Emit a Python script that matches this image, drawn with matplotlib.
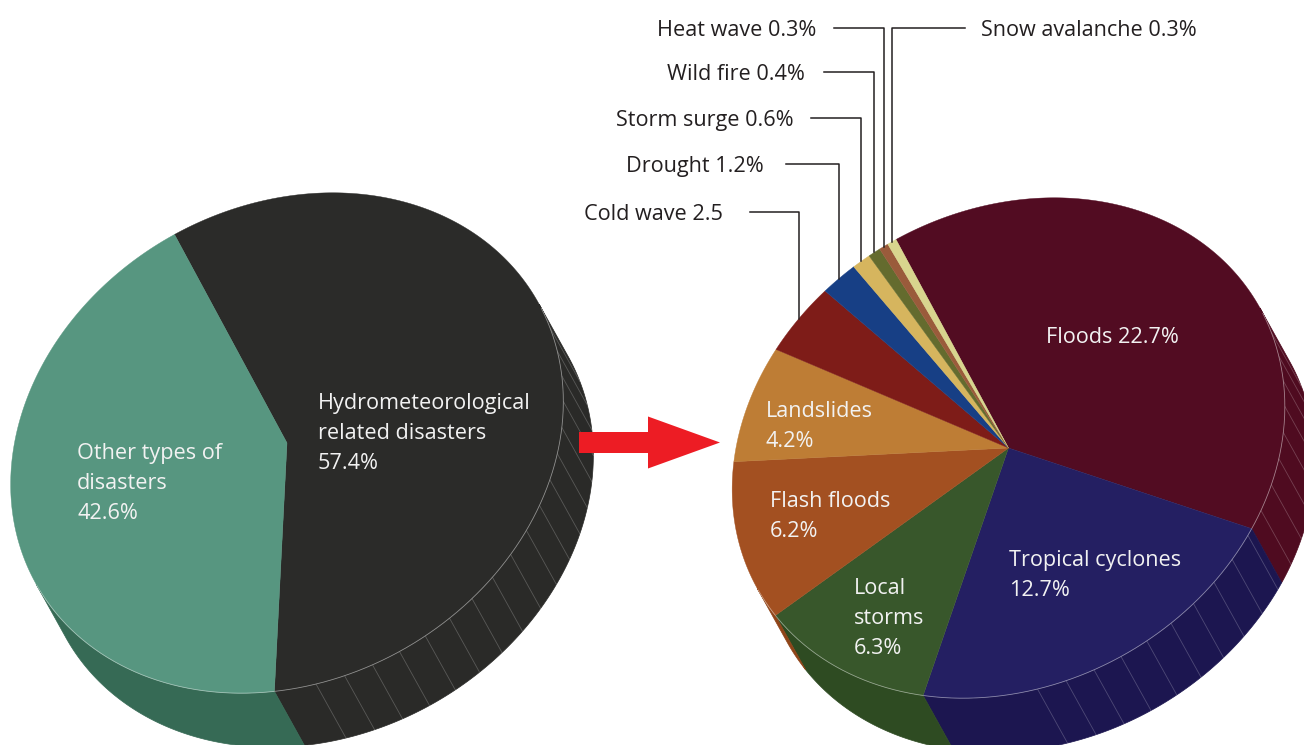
import numpy as np
import matplotlib.pyplot as plt
from matplotlib.patches import Polygon

plt.rcParams['font.family'] = ['Open Sans', 'DejaVu Sans']

# left pie: all disasters
left_values = [57.4, 42.6]
left_colors = ['#2b2b29', '#579680']
left_side_colors = ['#2a2a28', '#366a55']

# right pie: hydrometeorological disasters by type
right_names = ['Floods', 'Tropical cyclones', 'Local storms', 'Flash floods', 'Landslides',
               'Cold wave', 'Drought', 'Storm surge', 'Wild fire', 'Heat wave', 'Snow avalanche']
right_values = [22.7, 12.7, 6.3, 6.2, 4.2, 2.5, 1.2, 0.6, 0.4, 0.3, 0.3]
right_colors = ['#520c22', '#241f62', '#38572b', '#a35021', '#be7d35',
                '#7e1c18', '#173f85', '#d6b55e', '#646b2e', '#9a5b3b', '#d8d58e']
right_side_colors = ['#4f0b20', '#1c1650', '#2e4b22', '#8f4418', '#a86c2c',
                     '#6e1814', '#12356f', '#bf9f50', '#565c27', '#854e32', '#c2bf7c']

# small slices labelled outside with leader lines
callout_names = ['Cold wave 2.5', 'Drought 1.2%', 'Storm surge 0.6%', 'Wild fire 0.4%',
                 'Heat wave 0.3%', 'Snow avalanche 0.3%']
callout_y = [212, 164, 118, 72, 28, 28]
callout_line_x = [750, 786, 811, 824, 834, 965]
callout_text_x = [723, 764, 794, 805, 816, 981]

# 3-D look: top face is a tilted circle, side is the face pushed down-right
R = np.array([-112.5, -208.5])
S = np.array([252.4, -138.3])
depth = np.array([30.0, 54.0])
facing = np.linalg.solve(np.column_stack([R, S]), depth)


def rim(c, a):
    a = np.radians(np.atleast_1d(a))
    x = c[0] + R[0] * np.cos(a) + S[0] * np.sin(a)
    y = c[1] + R[1] * np.cos(a) + S[1] * np.sin(a)
    return np.column_stack([x, y])


def draw_pie(ax, c, values, colors, side_colors):
    frac = np.array(values) / np.sum(values)
    edges = np.concatenate([[0], np.cumsum(frac) * 360])
    # front side
    for a0, a1, sc in zip(edges[:-1], edges[1:], side_colors):
        a = np.linspace(a0, a1, 300)
        r = np.radians(a)
        vis = np.cos(r) * facing[0] + np.sin(r) * facing[1] > 0
        if vis.sum() < 2:
            continue
        p = rim(c, a[vis])
        ax.add_patch(Polygon(np.vstack([p, p[::-1] + depth]), closed=True,
                             fc=sc, ec=sc, lw=0.5, zorder=1))
    for a in np.arange(96, 200, 6):
        p = rim(c, a)[0]
        ax.plot([p[0], p[0] + depth[0]], [p[1], p[1] + depth[1]],
                color='white', alpha=0.22, lw=0.6, zorder=2)
    # top face
    for a0, a1, col in zip(edges[:-1], edges[1:], colors):
        a = np.linspace(a0, a1, max(int((a1 - a0) * 2), 4))
        poly = np.vstack([c, rim(c, a)])
        ax.add_patch(Polygon(poly, closed=True, fc=col, ec=col, lw=0.3, zorder=3))
    a = np.linspace(91, 269, 300)
    p = rim(c, a)
    ax.plot(p[:, 0], p[:, 1], color='white', alpha=0.45, lw=0.6, zorder=4)
    return edges


fig = plt.figure(figsize=(13.04, 7.45), dpi=100)
ax = fig.add_axes([0, 0, 1, 1])
ax.set_xlim(0, 1304)
ax.set_ylim(745, 0)
ax.axis('off')

left_c = np.array([287.0, 443.0])
right_c = np.array([1008.5, 448.0])
draw_pie(ax, left_c, left_values, left_colors, left_side_colors)
edges = draw_pie(ax, right_c, right_values, right_colors, right_side_colors)

white = '#f2f2f2'
dark = '#231f20'
fs = 15.6
step = 29.8


def label(x, y, lines, color=white, ha='left'):
    for i, s in enumerate(lines):
        ax.text(x, y + i * step, s, color=color, fontsize=fs, ha=ha, va='baseline', zorder=6)


label(318, 409.5, ['Hydrometeorological', 'related disasters', '57.4%'])
label(77, 459.5, ['Other types of', 'disasters', '42.6%'])
label(1046, 343, ['Floods 22.7%'])
label(1009, 566, ['Tropical cyclones', '12.7%'])
label(854, 594, ['Local', 'storms', '6.3%'])
label(770, 507, ['Flash floods', '6.2%'])
label(766, 417, ['Landslides', '4.2%'])

# leader lines to the thin slices
mids = (edges[:-1] + edges[1:]) / 2
for k, name in enumerate(callout_names):
    p = rim(right_c, mids[5 + k])[0]
    y = callout_y[k]
    ax.plot([callout_line_x[k], p[0], p[0]], [y, y, p[1]], color=dark, lw=1.1, zorder=5)
    ha = 'left' if callout_text_x[k] > p[0] else 'right'
    ax.text(callout_text_x[k], y + 8, name, color=dark, fontsize=fs, ha=ha, va='baseline')

# red arrow between the pies
ax.arrow(579, 442.5, 141, 0, width=21, head_width=52, head_length=72,
         length_includes_head=True, color='#ed1c24', lw=0, zorder=5)

fig.savefig('out.png', dpi=100)
